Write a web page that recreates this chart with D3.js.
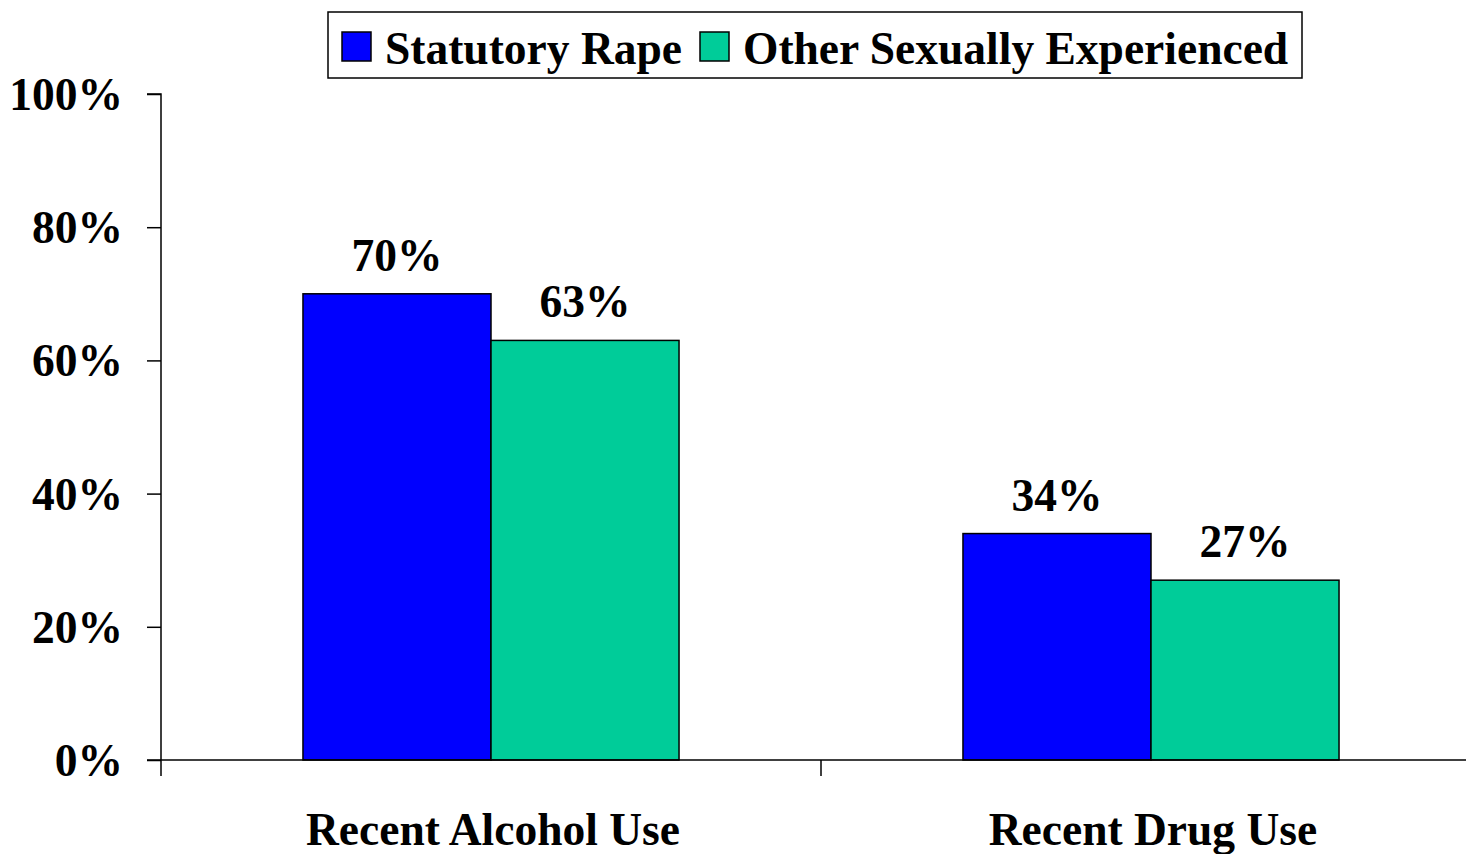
<!DOCTYPE html>
<html><head><meta charset="utf-8">
<script src="https://cdn.jsdelivr.net/npm/d3@7"></script>
<style>body{margin:0;background:#fff}svg{display:block}text{font-family:"Liberation Serif","Times New Roman",serif;font-weight:bold;fill:#000}</style>
</head><body><svg id="c" width="1466" height="854"></svg>
<script>
const categories = ["Recent Alcohol Use", "Recent Drug Use"];
const seriesNames = ["Statutory Rape", "Other Sexually Experienced"];
const statutoryRape = [70, 34];
const otherSexuallyExperienced = [63, 27];
const yTicks = [0, 20, 40, 60, 80, 100];
const colors = ["#0000FF", "#00CC99"];

const seriesValues = [statutoryRape, otherSexuallyExperienced];
const svg = d3.select("#c");
const mLeft = 161, mRight = 1481, mTop = 94, mBottom = 760;
const fs = 45.5;

const y = d3.scaleLinear().domain([0, 100]).range([mBottom, mTop]);
const x0 = d3.scaleBand().domain(categories).range([mLeft, mRight]);
const x1 = d3.scaleBand().domain(seriesNames).range([0, x0.bandwidth()]).paddingInner(0).paddingOuter(0.755);

// y axis
const yAxis = d3.axisLeft(y).tickValues(yTicks).tickFormat(d => d + "%").tickSize(14).tickPadding(24);
const ga = svg.append("g").attr("transform", `translate(${mLeft},0)`).call(yAxis);
ga.select(".domain").attr("stroke", "#000").attr("stroke-width", 1.5).attr("d", `M-14,${mTop}H0V${mBottom}`);
ga.selectAll(".tick line").attr("stroke", "#000").attr("stroke-width", 1.5);
ga.selectAll(".tick text").attr("font-size", fs).attr("font-family", "Liberation Serif").attr("font-weight", "bold").attr("fill", "#000").attr("dy", "0.34em");

// bars
categories.forEach((c, i) => {
  seriesNames.forEach((s, j) => {
    const v = seriesValues[j][i];
    const bx = x0(c) + x1(s);
    svg.append("rect").attr("x", bx).attr("y", y(v)).attr("width", x1.bandwidth()).attr("height", y(0) - y(v))
      .attr("fill", colors[j]).attr("stroke", "#000").attr("stroke-width", 1.5);
    svg.append("text").attr("x", bx + x1.bandwidth() / 2).attr("y", y(v) - 23).attr("text-anchor", "middle")
      .attr("font-size", fs).text(v + "%");
  });
});

// x axis
const xAxis = d3.axisBottom(x0).tickSize(0).tickFormat("");
const gx = svg.append("g").attr("transform", `translate(0,${mBottom})`).call(xAxis);
gx.select(".domain").attr("stroke", "#000").attr("stroke-width", 1.5).attr("d", `M${mLeft - 14},0H1466`);
const bounds = [mLeft, x0(categories[1])];
bounds.forEach(b => gx.append("line").attr("x1", b).attr("x2", b).attr("y1", 0).attr("y2", 16).attr("stroke", "#000").attr("stroke-width", 1.5));
categories.forEach(c => {
  svg.append("text").attr("x", x0(c) + x0.bandwidth() / 2 + 2).attr("y", 845).attr("text-anchor", "middle").attr("font-size", fs).text(c);
});

// legend
const lg = svg.append("g");
lg.append("rect").attr("x", 328).attr("y", 12).attr("width", 974).attr("height", 66).attr("fill", "#fff").attr("stroke", "#000").attr("stroke-width", 1.5);
const legX = [342, 700];
seriesNames.forEach((s, j) => {
  lg.append("rect").attr("x", legX[j]).attr("y", 32).attr("width", 29).attr("height", 29).attr("fill", colors[j]).attr("stroke", "#000").attr("stroke-width", 1.5);
  lg.append("text").attr("x", legX[j] + 43).attr("y", 64).attr("font-size", fs).text(s);
});
</script></body></html>
